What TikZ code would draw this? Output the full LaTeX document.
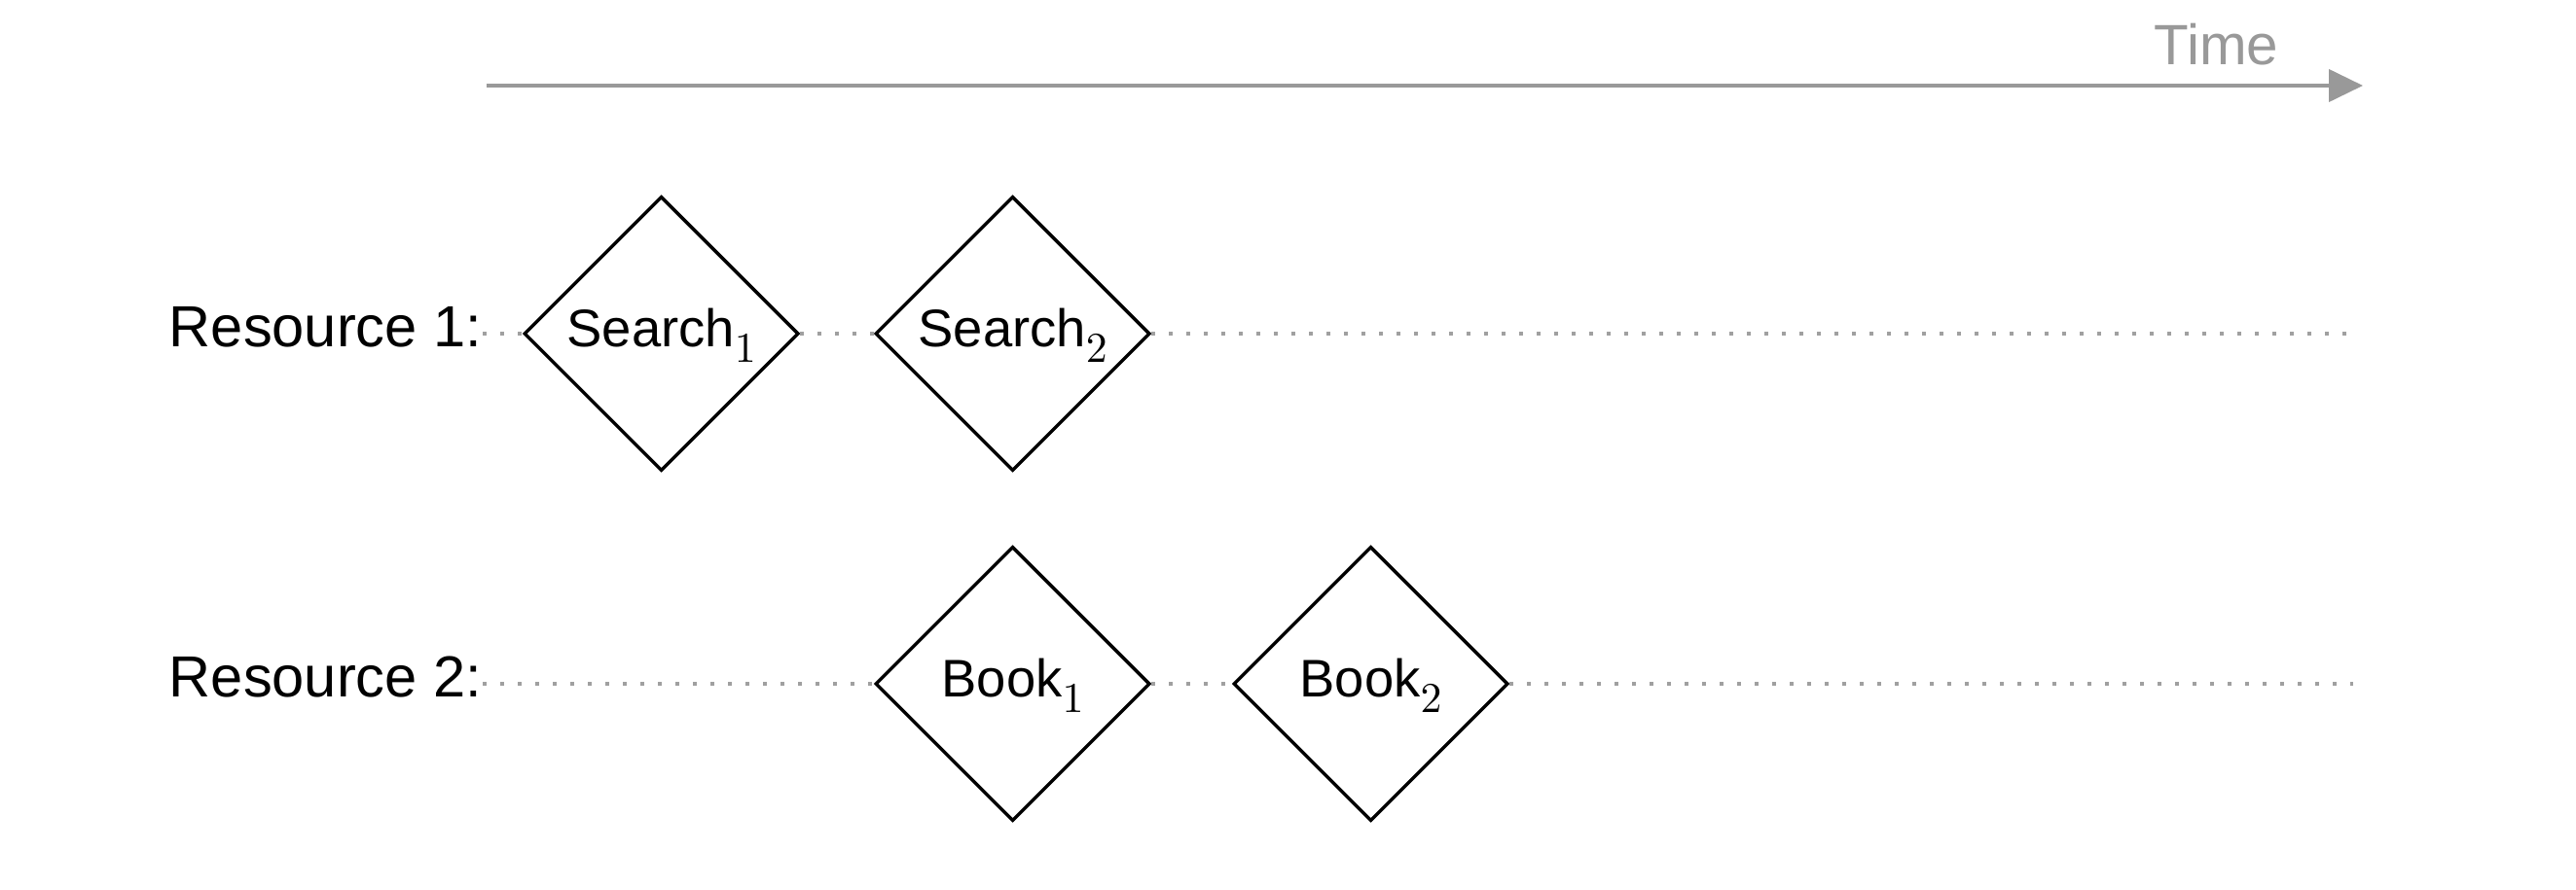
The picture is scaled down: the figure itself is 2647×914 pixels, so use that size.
\documentclass[tikz,border=0pt]{standalone}
\usepackage{fontspec}
\setmainfont{Liberation Sans}
\usetikzlibrary{shapes.geometric,arrows.meta}
\definecolor{timegray}{HTML}{999999}
\definecolor{dotgray}{HTML}{A0A0A0}
\newcommand{\tsub}[1]{\raisebox{-4pt}{\fontsize{10.5pt}{12pt}\selectfont$#1$}}
\begin{document}
\begin{tikzpicture}[x=0.25pt,y=0.25pt,
  task/.style={draw=black, line width=0.85pt, shape=diamond, aspect=1,
    minimum width=70.5pt, minimum height=70.5pt, inner sep=0pt,
    font=\fontsize{13.6pt}{16pt}\selectfont, text height=0.75em, text depth=0.1em},
  reslabel/.style={inner sep=0pt, anchor=base east, font=\fontsize{14.9pt}{17pt}\selectfont},
  idle/.style={draw=dotgray, line width=1pt, dash pattern=on 1pt off 3.5pt},
  timeline/.style={draw=timegray, line width=0.9pt, -{Triangle[length=8.75pt,width=8.3pt]}}
]
\useasboundingbox (0,0) rectangle (2647,914);

% time axis
\coordinate (t0) at (500,826);
\coordinate (t1) at (2428,826);
\draw[timeline] (t0) -- (t1);
\node[inner sep=0pt, anchor=base, text=timegray, font=\fontsize{14.6pt}{17pt}\selectfont] (time) at (2277.5,848) {Time};

% resource labels
\node[reslabel] (r1) at (496,557.3) {Resource 1:};
\node[reslabel] (r2) at (496,197.3) {Resource 2:};

% tasks
\node[task] (s1) at (679.6,571) {Search\tsub{1}};
\node[task] (s2) at (1040.6,571) {Search\tsub{2}};
\node[task] (b1) at (1040.6,211) {Book\tsub{1}};
\node[task] (b2) at (1408.6,211) {Book\tsub{2}};

\coordinate (e1) at (2418,571);
\coordinate (e2) at (2418,211);

% idle dotted lines
\draw[idle] (r1.east |- s1.west) -- (s1.west);
\draw[idle] (s1.east) -- (s2.west);
\draw[idle] (s2.east) -- (e1);
\draw[idle] (r2.east |- b1.west) -- (b1.west);
\draw[idle] (b1.east) -- (b2.west);
\draw[idle] (b2.east) -- (e2);
\end{tikzpicture}
\end{document}
